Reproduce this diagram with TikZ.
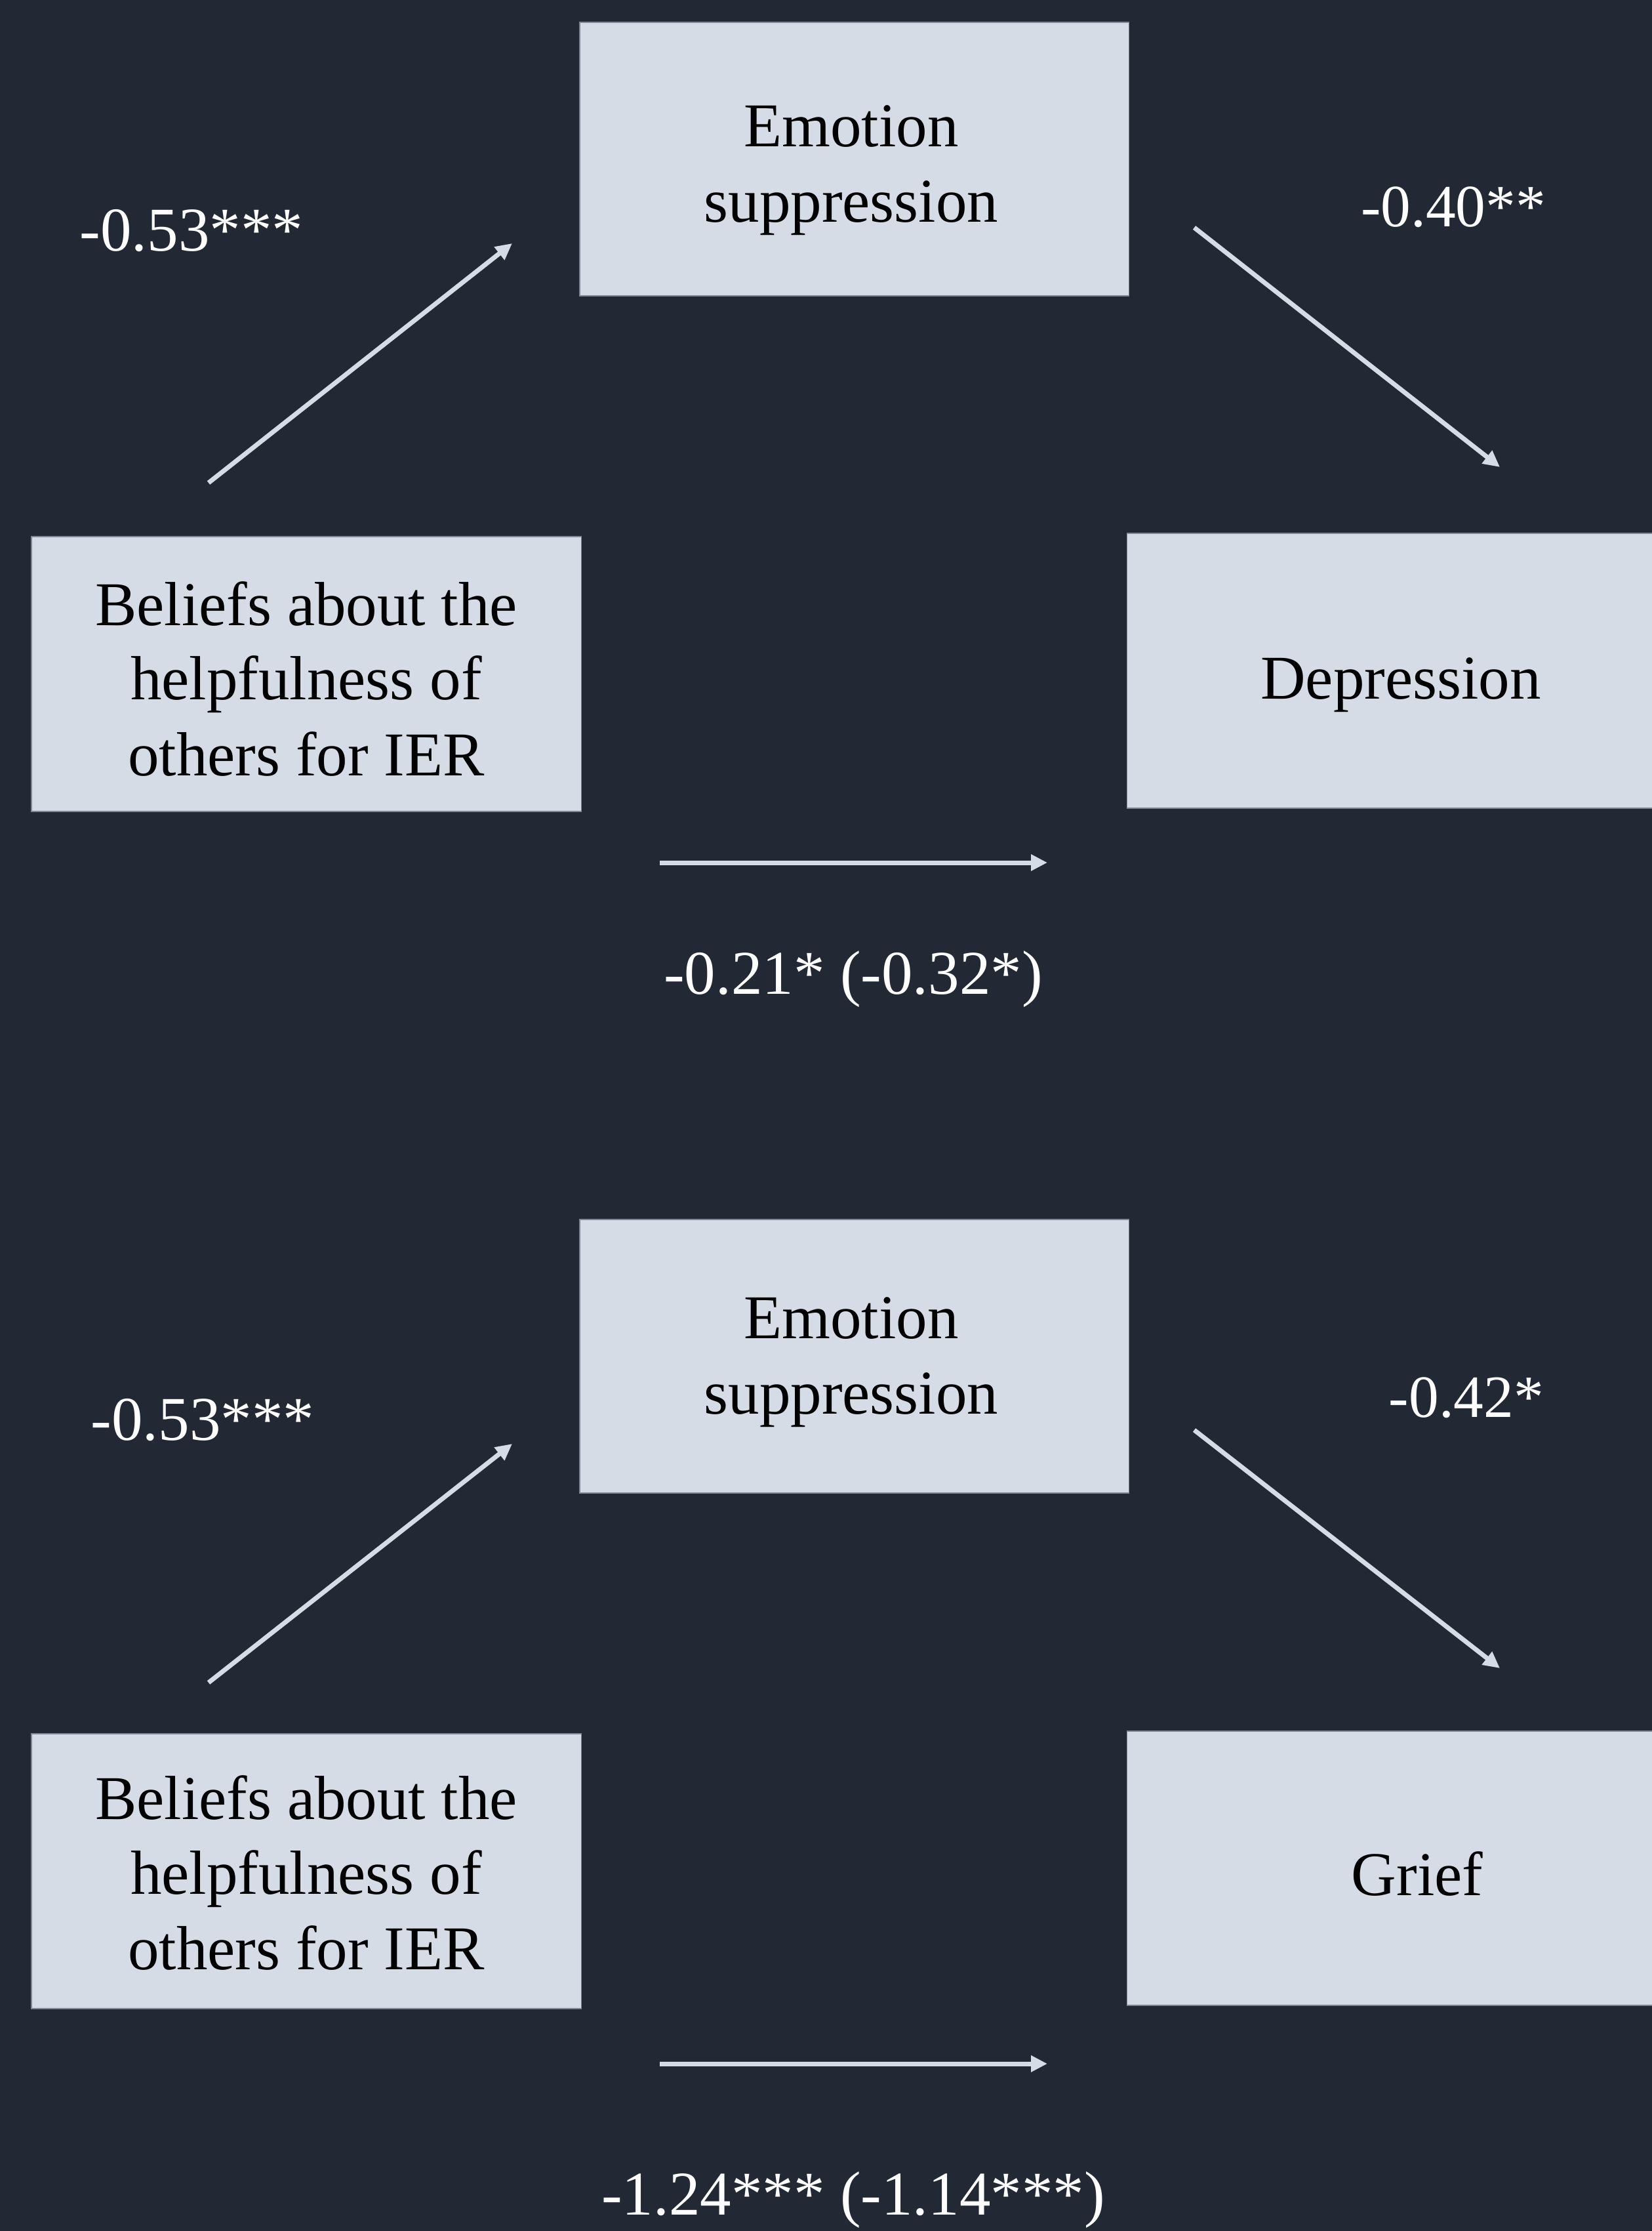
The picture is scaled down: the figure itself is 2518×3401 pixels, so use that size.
\documentclass[tikz,border=0pt]{standalone}
\usepackage{fontspec}
\setmainfont{Liberation Serif}
\usetikzlibrary{arrows.meta}
\definecolor{bgc}{RGB}{34,40,52}
\definecolor{boxc}{RGB}{213,220,230}
\definecolor{edgec}{RGB}{125,135,150}
\begin{document}
\begin{tikzpicture}[x=0.01cm,y=-0.01cm,
  box/.style={rectangle, fill=boxc, draw=edgec, line width=0.015cm, inner sep=0pt, outer sep=0pt},
  boxtext/.style={anchor=base, text=black, inner sep=0pt, font=\fontsize{27pt}{32pt}\selectfont},
  coef/.style={anchor=base, text=white, inner sep=0pt, font=\fontsize{27pt}{32pt}\selectfont},
  coefs/.style={anchor=base, text=white, inner sep=0pt, font=\fontsize{26pt}{31pt}\selectfont},
  link/.style={draw=boxc, line width=0.07cm, -{Triangle[length=0.25cm,width=0.24cm]}}
]
\useasboundingbox (0,0) rectangle (2518,3401);
\fill[bgc] (-20,-20) rectangle (2540,3420);

% ---------- top panel ----------
\node[box, minimum width=8.37cm, minimum height=4.17cm] (es1) at (1302.5,242.5) {};
\node[box, minimum width=8.38cm, minimum height=4.19cm] (be1) at (467,1027.5) {};
\node[box, minimum width=9.81cm, minimum height=4.19cm] (de1) at (2209.5,1022.5) {};

\node[boxtext] (es1a) at (1298,224) {Emotion};
\node[boxtext] (es1b) at (1298,339) {suppression};
\node[boxtext] (be1a) at (467,953) {Beliefs about the};
\node[boxtext] (be1b) at (467,1067) {helpfulness of};
\node[boxtext] (be1c) at (467,1182) {others for IER};
\node[boxtext] (de1a) at (2136,1065) {Depression};

\node[coef] (c1) at (292,383) {-0.53***};
\node[coefs] (c2) at (2216,346) {-0.40**};
\node[coef] (c3) at (1301,1515) {-0.21* (-0.32*)};

\coordinate (a1s) at (318,736);
\coordinate (a1e) at (781,371);
\coordinate (a2s) at (1821,347);
\coordinate (a2e) at (2287,712);
\coordinate (a3s) at (1006,1315);
\coordinate (a3e) at (1597,1315);
\draw[link] (a1s) -- (a1e);
\draw[link] (a2s) -- (a2e);
\draw[link] (a3s) -- (a3e);

% ---------- bottom panel ----------
\node[box, minimum width=8.37cm, minimum height=4.17cm] (es2) at (1302.5,2067.5) {};
\node[box, minimum width=8.38cm, minimum height=4.19cm] (be2) at (467,2852.5) {};
\node[box, minimum width=9.81cm, minimum height=4.18cm] (gr2) at (2209.5,2848) {};

\node[boxtext] (es2a) at (1298,2040) {Emotion};
\node[boxtext] (es2b) at (1298,2155) {suppression};
\node[boxtext] (be2a) at (467,2773) {Beliefs about the};
\node[boxtext] (be2b) at (467,2887) {helpfulness of};
\node[boxtext] (be2c) at (467,3002) {others for IER};
\node[boxtext] (gr2a) at (2161,2889) {Grief};

\node[coef] (c4) at (309,2195) {-0.53***};
\node[coefs] (c5) at (2236,2160) {-0.42*};
\node[coef] (c6) at (1301,3376) {-1.24*** (-1.14***)};

\coordinate (a4s) at (318,2565);
\coordinate (a4e) at (781,2201);
\coordinate (a5s) at (1821,2180);
\coordinate (a5e) at (2287,2543);
\coordinate (a6s) at (1006,3146);
\coordinate (a6e) at (1597,3146);
\draw[link] (a4s) -- (a4e);
\draw[link] (a5s) -- (a5e);
\draw[link] (a6s) -- (a6e);
\end{tikzpicture}
\end{document}
